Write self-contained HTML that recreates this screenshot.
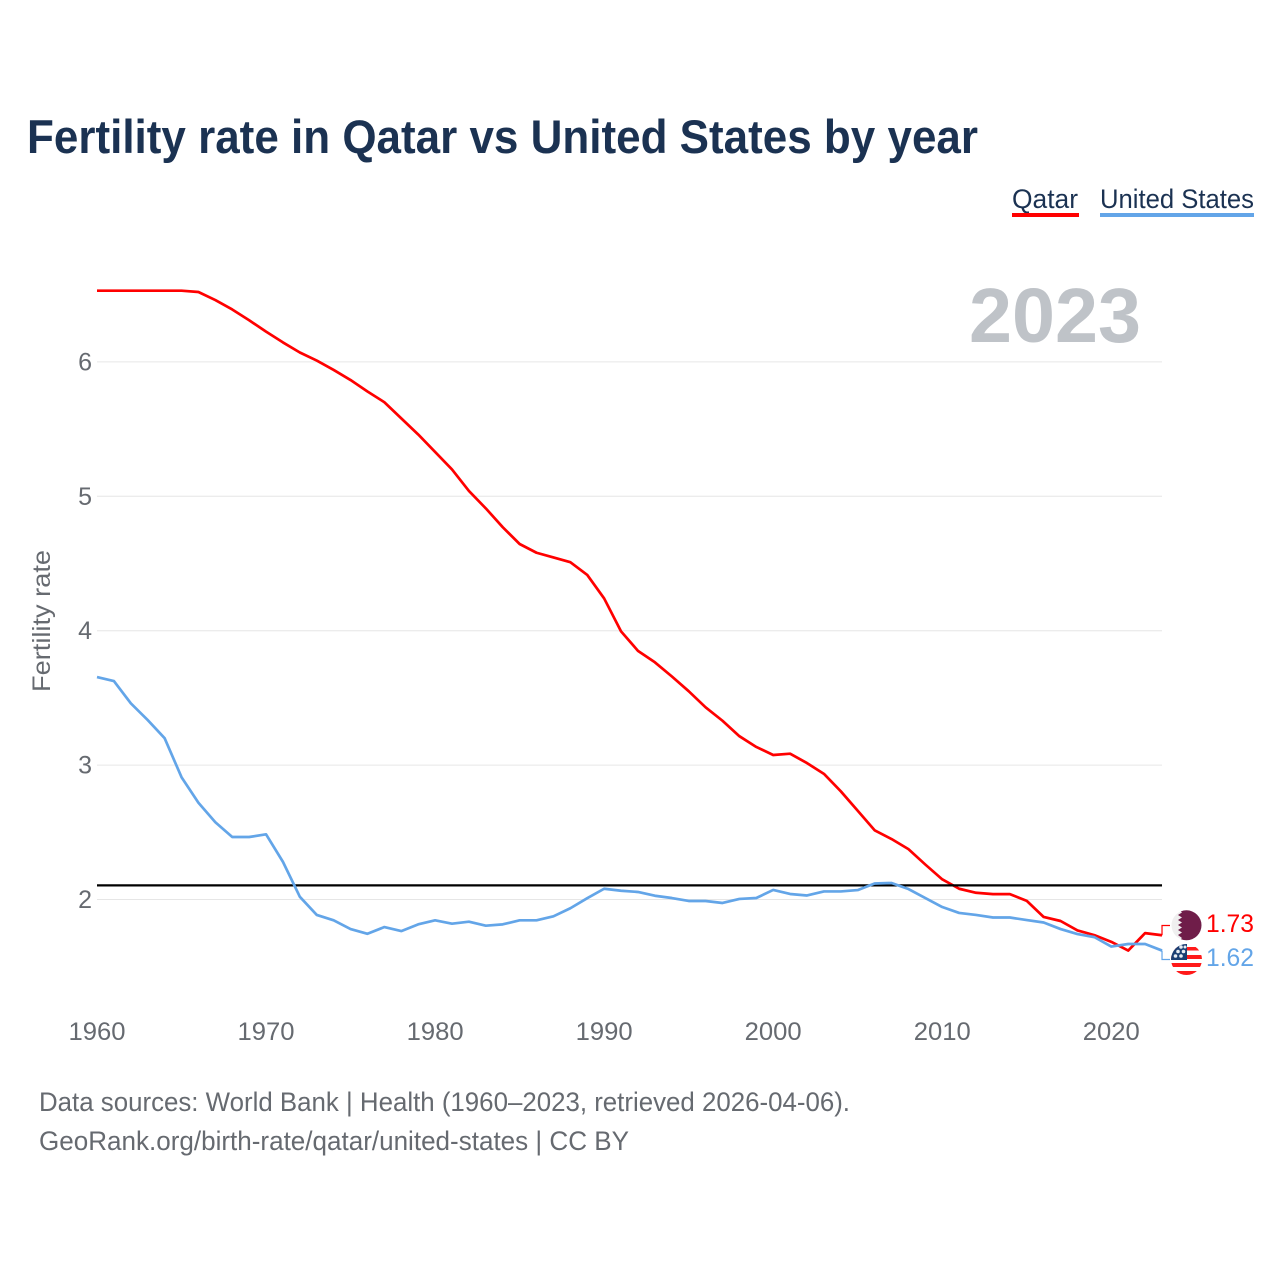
<!DOCTYPE html>
<html lang="en">
<head>
<meta charset="utf-8">
<title>Fertility rate in Qatar vs United States by year</title>
<style>
html,body{margin:0;padding:0;background:#fff;width:1280px;height:1280px;overflow:hidden}
svg{display:block;font-family:"Liberation Sans",sans-serif}
</style>
</head>
<body>
<svg id="chart" width="1280" height="1280" viewBox="0 0 1280 1280" xmlns="http://www.w3.org/2000/svg">
  <rect width="1280" height="1280" fill="#fff"/>
  <text x="27" y="153" font-size="47" font-weight="700" fill="#1b3252" textLength="951" lengthAdjust="spacingAndGlyphs">Fertility rate in Qatar vs United States by year</text>

  <g>
    <text x="1012" y="208" font-size="27" fill="#1b3252" textLength="66" lengthAdjust="spacingAndGlyphs">Qatar</text>
    <rect x="1012" y="213" width="67" height="4" fill="#ff0000"/>
  </g>
  <g>
    <text x="1100" y="208" font-size="27" fill="#1b3252" textLength="154" lengthAdjust="spacingAndGlyphs">United States</text>
    <rect x="1100" y="213" width="154" height="4" fill="#63a5e8"/>
  </g>

  <text x="969" y="342" font-size="77" font-weight="700" fill="#bfc3c8" textLength="172" lengthAdjust="spacingAndGlyphs">2023</text>
  <text transform="translate(50,621) rotate(-90)" text-anchor="middle" font-size="25" fill="#666a70" textLength="142" lengthAdjust="spacingAndGlyphs">Fertility rate</text>

  <g id="grid"></g>
  <g id="yticks"></g>
  <g id="xticks"></g>
  <g id="series"></g>

  <g id="flag-qatar">
    <clipPath id="clip-qa"><circle cx="1186.500" cy="925.300" r="15"/></clipPath>
    <g clip-path="url(#clip-qa)">
      <rect x="1171" y="910" width="31" height="31" fill="#efefef"/>
      <polygon fill="#6f1d49" points="1179,910 1202,910 1202,941 1179,941 1182,938 1178,935 1182,932.500 1178,930 1182,927.500 1178,925 1182,922.500 1178,920 1182,917.500 1178,915 1182,912.500"/>
    </g>
  </g>
  <g id="flag-us">
    <clipPath id="clip-us"><circle cx="1186.500" cy="959.500" r="15.500"/></clipPath>
    <g clip-path="url(#clip-us)">
      <rect x="1171" y="944" width="31" height="31" fill="#fff"/>
      <rect x="1171" y="947" width="31" height="3.500" fill="#ff1a1a"/>
      <rect x="1171" y="955" width="31" height="4" fill="#ff1a1a"/>
      <rect x="1171" y="963" width="31" height="4" fill="#ff1a1a"/>
      <rect x="1171" y="971" width="31" height="4" fill="#ff1a1a"/>
      <rect x="1171" y="944" width="16" height="16" fill="#1b3f73"/>
      <g fill="#e8edf3">
        <circle cx="1175.500" cy="956" r="1.800"/><circle cx="1181" cy="956" r="1.800"/>
        <circle cx="1178" cy="951.500" r="1.800"/><circle cx="1183.500" cy="951.500" r="1.800"/>
        <circle cx="1181" cy="947" r="1.800"/><circle cx="1185" cy="947" r="1.500"/>
      </g>
    </g>
  </g>

  <g id="end-labels"></g>

  <text x="39" y="1111" font-size="27" fill="#666a70" textLength="811" lengthAdjust="spacingAndGlyphs">Data sources: World Bank | Health (1960–2023, retrieved 2026-04-06).</text>
  <text x="39" y="1150" font-size="27" fill="#666a70" textLength="590" lengthAdjust="spacingAndGlyphs">GeoRank.org/birth-rate/qatar/united-states | CC BY</text>
</svg>
<script>
const years = [1960,1961,1962,1963,1964,1965,1966,1967,1968,1969,1970,1971,1972,1973,1974,1975,1976,1977,1978,1979,1980,1981,1982,1983,1984,1985,1986,1987,1988,1989,1990,1991,1992,1993,1994,1995,1996,1997,1998,1999,2000,2001,2002,2003,2004,2005,2006,2007,2008,2009,2010,2011,2012,2013,2014,2015,2016,2017,2018,2019,2020,2021,2022,2023];
const qatarValues = [6.53,6.53,6.53,6.53,6.53,6.53,6.52,6.46,6.39,6.31,6.225,6.145,6.07,6.01,5.94,5.865,5.78,5.70,5.58,5.46,5.33,5.20,5.04,4.91,4.77,4.645,4.58,4.545,4.51,4.415,4.24,3.995,3.85,3.765,3.66,3.55,3.43,3.33,3.215,3.135,3.075,3.085,3.015,2.935,2.805,2.66,2.515,2.45,2.375,2.26,2.15,2.08,2.05,2.04,2.04,1.99,1.87,1.84,1.77,1.735,1.685,1.62,1.75,1.734];
const usValues = [3.655,3.625,3.46,3.335,3.20,2.91,2.72,2.575,2.465,2.465,2.485,2.28,2.02,1.885,1.845,1.78,1.745,1.795,1.765,1.815,1.845,1.82,1.835,1.805,1.815,1.845,1.845,1.875,1.935,2.01,2.08,2.065,2.056,2.028,2.011,1.989,1.989,1.974,2.004,2.011,2.071,2.041,2.03,2.06,2.06,2.07,2.119,2.123,2.078,2.011,1.944,1.90,1.885,1.866,1.866,1.847,1.829,1.78,1.743,1.72,1.65,1.669,1.669,1.62];
const yTickValues = [2,3,4,5,6];
const xTickValues = [1960,1970,1980,1990,2000,2010,2020];
const replacementLevel = [2.105];

const SVGNS = 'http://www.w3.org/2000/svg';
const xScale = function (year) { return 97 + (year - 1960) * 16.905; };
const yScale = function (value) { return 899.5 - (value - 2) * 134.4; };
const plotLeft = xScale(1960);
const plotRight = xScale(2023);

function make(tag, parent, attrs) {
  const el = document.createElementNS(SVGNS, tag);
  Object.keys(attrs).forEach(function (k) { el.setAttribute(k, attrs[k]); });
  parent.appendChild(el);
  return el;
}

const gridGroup = document.getElementById('grid');
const yTickGroup = document.getElementById('yticks');
yTickValues.forEach(function (v) {
  const gridline = make('line', gridGroup, { x1: plotLeft, x2: plotRight, y1: yScale(v), y2: yScale(v), stroke: '#e6e6e6', 'stroke-width': 1 });
  
  
  const label = make('text', yTickGroup, { x: 92, y: yScale(v) + 8.5, 'text-anchor': 'end', 'font-size': 25, fill: '#666a70' });
  
  
  label.textContent = String(v);
});

const xTickGroup = document.getElementById('xticks');
xTickValues.forEach(function (year) {
  const label = make('text', xTickGroup, { x: xScale(year), y: 1040, 'text-anchor': 'middle', 'font-size': 25, fill: '#666a70', textLength: 57, lengthAdjust: 'spacingAndGlyphs' });
  
  
  label.textContent = String(year);
});

function linePoints(values) {
  return values.map(function (v, i) { return xScale(years[i]).toFixed(2) + ',' + yScale(v).toFixed(2); }).join(' ');
}

const seriesGroup = document.getElementById('series');

const qatarLine = make('polyline', seriesGroup, { points: linePoints(qatarValues), fill: 'none', stroke: '#ff0000', 'stroke-width': 2.7, 'stroke-linejoin': 'round' });



const refLine = make('line', seriesGroup, { x1: plotLeft, x2: plotRight, y1: yScale(replacementLevel[0]), y2: yScale(replacementLevel[0]), stroke: '#000', 'stroke-width': 2.2 });



const usLine = make('polyline', seriesGroup, { points: linePoints(usValues), fill: 'none', stroke: '#63a5e8', 'stroke-width': 2.7, 'stroke-linejoin': 'round' });



const qatarLast = qatarValues[qatarValues.length - 1];
const usLast = usValues[usValues.length - 1];
const endGroup = document.getElementById('end-labels');

const qatarConnector = make('polyline', endGroup, { points: plotRight + ',' + yScale(qatarLast) + ' ' + plotRight + ',925.5 1170,925.5', fill: 'none', stroke: '#ff0000', 'stroke-width': 1.2 });



const usConnector = make('polyline', endGroup, { points: plotRight + ',' + yScale(usLast) + ' ' + plotRight + ',959.5 1170,959.5', fill: 'none', stroke: '#63a5e8', 'stroke-width': 1.2 });



const qatarLabel = make('text', endGroup, { x: 1206, y: 932, 'font-size': 25, fill: '#ff0000', textLength: 48, lengthAdjust: 'spacingAndGlyphs' });


qatarLabel.textContent = qatarLast.toFixed(2);

const usLabel = make('text', endGroup, { x: 1206, y: 966, 'font-size': 25, fill: '#63a5e8', textLength: 48, lengthAdjust: 'spacingAndGlyphs' });


usLabel.textContent = usLast.toFixed(2);
</script>
</body>
</html>
